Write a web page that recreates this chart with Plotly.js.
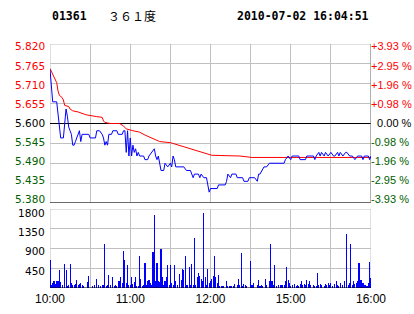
<!DOCTYPE html>
<html><head><meta charset="utf-8">
<script src="https://cdn.plot.ly/plotly-3.0.1.min.js"></script>
<style>html,body{margin:0;padding:0;background:#fff}#chart{width:414px;height:314px}</style>
</head><body><div id="chart"></div>
<script>
// ---------- data ----------
const stockCode = "01361";
const stockName = "３６１度";
const stamp = "2010-07-02 16:04:51";
const prevClose = 5.600;
const priceTickLabels = ["5.380","5.435","5.490","5.545","5.600","5.655","5.710","5.765","5.820"];
const pctTickLabels = ["-3.93 %","-2.95 %","-1.96 %","-0.98 %","\u20070.00 %","+0.98 %","+1.96 %","+2.95 %","+3.93 %"];
const volTickLabels = ["","450","900","1350","1800"];
const xTickLabels = ["10:00","","11:00","","12:00","","15:00","","16:00"];

const priceTimes = ["10:00","10:01","10:02","10:05","10:06","10:07","10:08","10:10","10:11","10:12","10:13","10:14","10:15","10:16","10:17","10:18","10:19","10:20","10:22","10:23","10:24","10:29","10:30","10:34","10:35","10:37","10:39","10:40","10:41","10:42","10:43","10:44","10:46","10:47","10:50","10:51","10:54","10:55","10:56","10:57","10:58","10:59","11:00","11:01","11:02","11:03","11:04","11:05","11:06","11:07","11:10","11:11","11:13","11:14","11:16","11:18","11:19","11:20","11:21","11:22","11:23","11:25","11:26","11:28","11:30","11:31","11:32","11:33","11:34","11:40","11:42","11:45","11:46","11:47","11:48","11:51","11:52","11:53","11:55","11:57","11:58","11:59","12:00","12:05","12:06","12:11","12:12","12:13","12:15","12:16","12:19","12:20","12:24","12:25","12:28","12:29","14:31","14:33","14:35","14:36","14:37","14:40","14:42","14:44","14:55","14:56","14:58","15:00","15:01","15:06","15:07","15:11","15:12","15:17","15:18","15:19","15:21","15:22","15:23","15:25","15:26","15:28","15:30","15:32","15:33","15:35","15:36","15:37","15:39","15:41","15:42","15:44","15:46","15:48","15:50","15:53","15:54","15:55","15:58","15:59","16:00"];
const prices = [5.75,5.70,5.66,5.66,5.63,5.59,5.56,5.56,5.60,5.64,5.62,5.59,5.58,5.57,5.54,5.54,5.55,5.56,5.58,5.55,5.57,5.57,5.56,5.56,5.58,5.58,5.57,5.56,5.54,5.55,5.54,5.57,5.57,5.58,5.58,5.57,5.57,5.58,5.58,5.52,5.58,5.51,5.56,5.51,5.54,5.52,5.53,5.51,5.52,5.51,5.51,5.50,5.50,5.51,5.52,5.53,5.51,5.50,5.51,5.49,5.47,5.47,5.49,5.48,5.49,5.48,5.51,5.50,5.48,5.48,5.47,5.47,5.46,5.45,5.46,5.46,5.45,5.46,5.45,5.45,5.43,5.41,5.42,5.42,5.43,5.43,5.44,5.46,5.45,5.46,5.46,5.45,5.45,5.44,5.44,5.45,5.45,5.45,5.44,5.46,5.46,5.48,5.48,5.49,5.49,5.50,5.51,5.50,5.51,5.51,5.50,5.50,5.51,5.51,5.50,5.51,5.52,5.51,5.52,5.51,5.52,5.51,5.52,5.51,5.51,5.52,5.51,5.52,5.51,5.52,5.52,5.51,5.51,5.50,5.51,5.51,5.50,5.51,5.51,5.50,5.51];

const avgTimes = ["10:00","10:01","10:02","10:04","10:05","10:06","10:07","10:09","10:10","10:11","10:14","10:15","10:17","10:21","10:24","10:27","10:35","10:39","10:40","10:41","10:45","10:52","10:55","10:57","11:02","11:07","11:11","11:15","11:19","11:22","11:30","11:36","11:42","11:48","11:55","12:01","12:22","14:31","16:00"];
const avgPrices = [5.752,5.745,5.738,5.722,5.713,5.690,5.678,5.672,5.665,5.650,5.647,5.640,5.635,5.632,5.628,5.624,5.619,5.617,5.607,5.603,5.600,5.600,5.593,5.585,5.580,5.576,5.568,5.561,5.555,5.550,5.547,5.540,5.534,5.527,5.520,5.512,5.510,5.506,5.506];

// one value per trading minute, starting 10:00 (12:30 and 14:30 share a slot)
const volumes = [646,76,114,152,91,167,152,418,137,76,0,554,400,38,76,547,114,61,61,91,
190,76,99,114,61,38,0,0,137,281,0,0,38,61,0,213,61,0,38,61,
61,1011,38,76,304,76,0,243,38,61,38,167,167,243,114,851,646,114,532,76,
76,243,91,129,243,38,38,737,213,38,76,570,76,152,182,114,76,821,1672,152,
570,152,137,897,243,76,167,243,532,76,532,114,76,532,167,76,0,327,190,441,
418,737,61,61,471,76,547,76,1140,76,243,342,266,213,167,1710,243,76,441,114,
152,213,266,737,243,114,304,53,53,53,53,0,167,53,53,53,53,53,91,0,
76,213,76,798,38,91,76,53,0,0,608,76,114,0,0,76,190,53,76,53,
0,213,76,0,167,1011,167,76,532,38,0,61,76,61,61,61,167,486,190,114,
38,76,0,91,38,61,38,91,167,61,91,61,190,91,167,76,0,61,53,53,
342,76,91,76,0,53,91,76,114,76,114,53,0,91,152,76,53,114,0,76,
167,0,1231,76,114,1003,76,152,91,114,167,570,190,190,114,76,76,53,114,593,
228];

// ---------- helpers ----------
function minuteIndex(t){
  const p = t.split(':').map(Number);
  const mins = p[0]*60 + p[1];
  return mins <= 12*60+30 ? mins - 600 : 150 + (mins - (14*60+30));
}
const RED = '#ff0000', GREEN = '#006000', BLUE = '#0000ff', GRID = '#c0c0c0';
function labelColor(value){
  return Math.abs(value - prevClose) < 1e-9 ? '#000000' : (value > prevClose ? RED : GREEN);
}
const priceTickVals = priceTickLabels.map(Number);
const xTickVals = xTickLabels.map((_, i) => i * 30);
const volTickVals = volTickLabels.map((_, i) => i * 450);

// ---------- traces ----------
const traces = [
  {type:'scatter', mode:'lines', x: avgTimes.map(minuteIndex), y: avgPrices,
   line:{color:RED, width:1}, xaxis:'x', yaxis:'y', hoverinfo:'skip'},
  {type:'scatter', mode:'lines', x: priceTimes.map(minuteIndex), y: prices,
   line:{color:BLUE, width:1}, xaxis:'x', yaxis:'y', hoverinfo:'skip'},
  {type:'bar', x: volumes.map((_, i) => i), y: volumes, width:0.8,
   marker:{color:BLUE, line:{width:0}}, xaxis:'x2', yaxis:'y2', hoverinfo:'skip'}
];

const labelFont = 'DejaVu Sans, Verdana, sans-serif';
const pctFont = 'Liberation Sans, Arial, sans-serif';
const annotations = [
  {xref:'paper', yref:'paper', x:0, y:1.115, xanchor:'left', yanchor:'middle', showarrow:false,
   text:'<b>'+stockCode+'</b>', font:{family:'DejaVu Sans Mono, monospace', size:11.5, color:'#000'}},
  {xref:'paper', yref:'paper', x:0.175, y:1.115, xanchor:'left', yanchor:'middle', showarrow:false,
   text:stockName, font:{family:'Noto Sans CJK SC, sans-serif', size:12, color:'#000'}},
  {xref:'paper', yref:'paper', x:1.0, y:1.115, xanchor:'right', yanchor:'middle', showarrow:false,
   text:'<b>'+stamp+'</b>', font:{family:'DejaVu Sans Mono, monospace', size:11.5, color:'#000'}}
];
// price-axis labels, nudged inward toward the panel centre like the reference
const nP = priceTickVals.length - 1;
priceTickVals.forEach((v, i) => {
  const shift = 3.5 - (i / nP) * 5.9;
  annotations.push({xref:'paper', yref:'y', x:0, y:v, xanchor:'right', yanchor:'middle', xshift:-5, yshift:shift,
    showarrow:false, borderpad:0, borderwidth:0, text:priceTickLabels[i],
    font:{family:labelFont, size:10.5, color:labelColor(v)}});
  annotations.push({xref:'paper', yref:'y', x:1, y:v, xanchor:'left', yanchor:'middle', xshift:0, yshift:shift,
    showarrow:false, borderpad:0, borderwidth:0, text:pctTickLabels[i],
    font:{family:pctFont, size:11, color:labelColor(v)}});
});
volTickVals.forEach((v, i) => {
  if (!volTickLabels[i]) return;
  annotations.push({xref:'paper', yref:'y2', x:0, y:v, xanchor:'right', yanchor:'middle', xshift:-5,
    yshift: i === volTickVals.length - 1 ? -4 : -3,
    showarrow:false, borderpad:0, borderwidth:0, text:volTickLabels[i],
    font:{family:labelFont, size:10.5, color:'#000'}});
});

const layout = {
  width:414, height:314,
  margin:{l:50, r:43, t:44, b:26, pad:0},
  paper_bgcolor:'#ffffff', plot_bgcolor:'#ffffff',
  showlegend:false, hovermode:false, bargap:0,
  font:{family:labelFont, size:12, color:'#000'},
  xaxis:{domain:[0,1], range:[0,240], anchor:'y', tickvals:xTickVals, ticktext:xTickLabels,
         showticklabels:false, showgrid:true, gridcolor:GRID, gridwidth:1, zeroline:false, ticks:''},
  xaxis2:{domain:[0,1], range:[0,240], anchor:'y2', matches:'x', tickvals:xTickVals, ticktext:xTickLabels,
          showgrid:true, gridcolor:GRID, gridwidth:1, zeroline:false, ticks:'',
          tickfont:{family:pctFont, size:12}, ticklabelstandoff:2},
  yaxis:{domain:[0.3484,1], range:[5.38,5.82], anchor:'x', tickvals:priceTickVals,
         showticklabels:false, showgrid:true, gridcolor:GRID, gridwidth:1, zeroline:false, ticks:''},
  yaxis2:{domain:[0,0.3238], range:[0,1800], anchor:'x2', tickvals:volTickVals,
          showticklabels:false, showgrid:true, gridcolor:GRID, gridwidth:1, zeroline:false, ticks:''},
  shapes:[
    {type:'rect', xref:'x', yref:'y', x0:0, x1:240, y0:5.38, y1:5.82, line:{color:GRID, width:1}, layer:'between'},
    {type:'line', xref:'x', yref:'y', x0:0, x1:240, y0:prevClose, y1:prevClose, line:{color:'#000', width:1}, layer:'between'},
    {type:'line', xref:'x', yref:'y', x0:0, x1:240, y0:5.38, y1:5.38, line:{color:'#000', width:1}, layer:'between'},
    {type:'line', xref:'x', yref:'y', x0:240, x1:240, y0:5.38, y1:5.82, line:{color:'#808080', width:1}, layer:'between'},
    {type:'rect', xref:'x2', yref:'y2', x0:0, x1:240, y0:0, y1:1800, line:{color:GRID, width:1}, layer:'between'},
    {type:'line', xref:'x2', yref:'y2', x0:0, x1:240, y0:0, y1:0, line:{color:'#000', width:1}, layer:'above'}
  ],
  annotations: annotations
};

Plotly.newPlot('chart', traces, layout, {staticPlot:true, displayModeBar:false});
</script>
</body></html>
